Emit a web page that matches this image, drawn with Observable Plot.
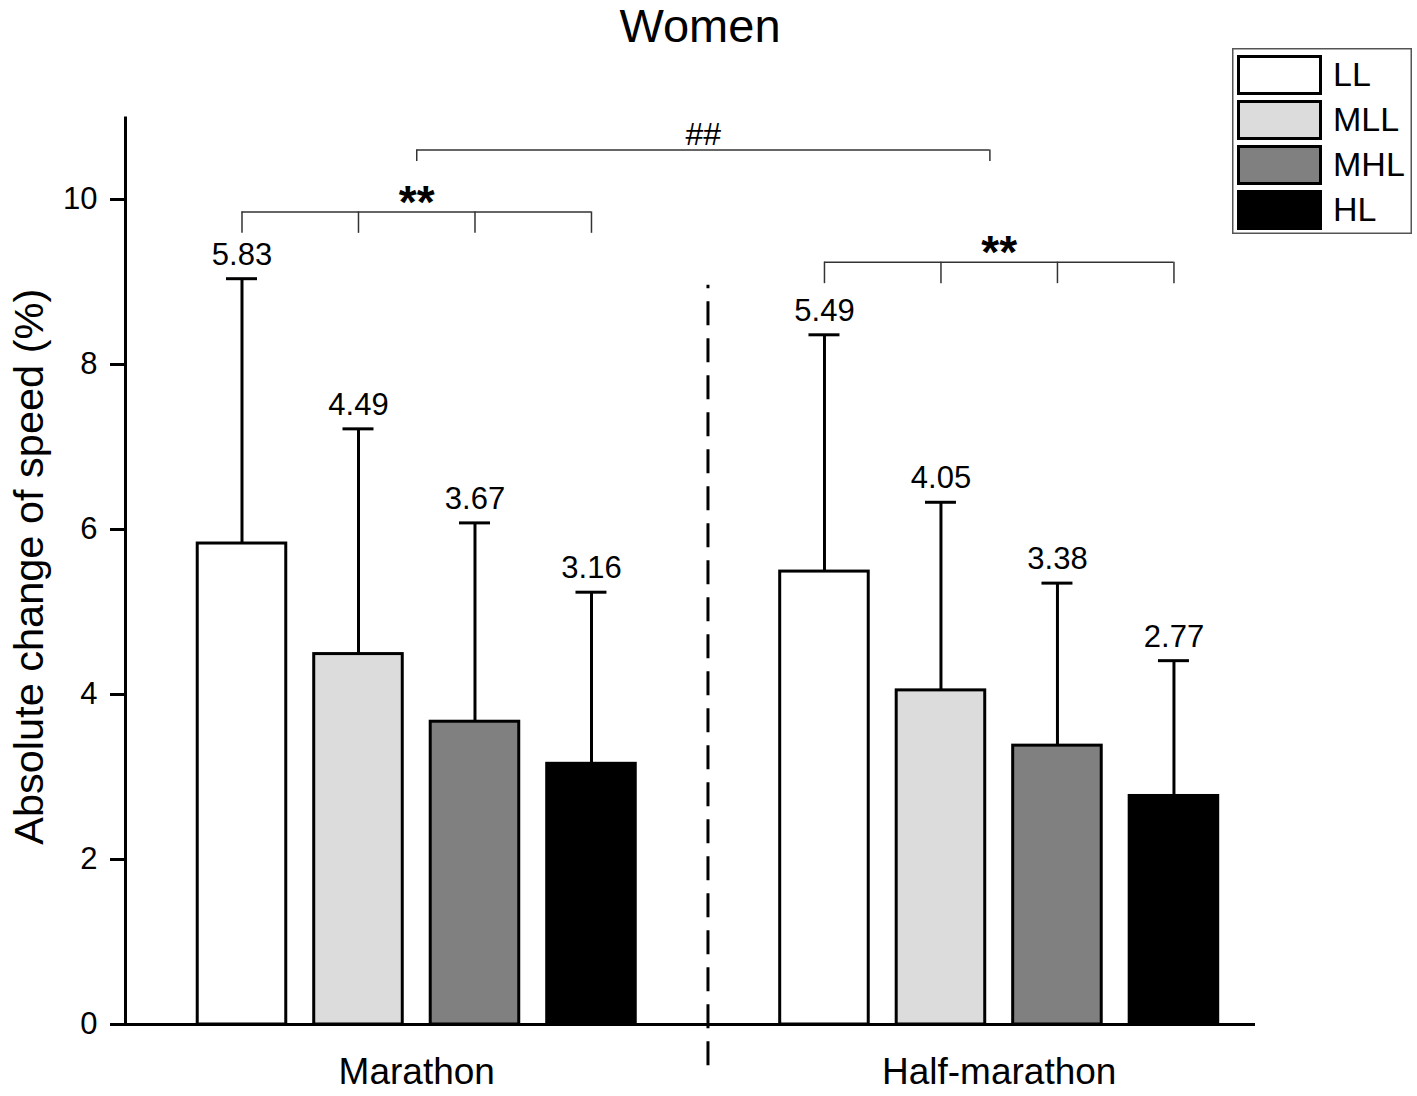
<!DOCTYPE html>
<html>
<head>
<meta charset="utf-8">
<script src="https://cdn.jsdelivr.net/npm/d3@7"></script>
<script src="https://cdn.jsdelivr.net/npm/@observablehq/plot@0.6"></script>
<style>
  html, body { margin: 0; padding: 0; background: #fff; }
  #wrap { position: relative; width: 1417px; height: 1096px; font-family: "Liberation Sans", Arial, sans-serif; }
  #title { height: 58px; width: 1400px; text-align: center; font-size: 47px; line-height: 52px; color: #000; overflow: visible; }
  #legend { position: absolute; left: 1232px; top: 48px; }
</style>
</head>
<body>
<div id="wrap">
  <div id="title">Women</div>
  <div id="chart"></div>
  <div id="legend"></div>
</div>
<script>
// ---- data ----
const races = ["Marathon", "Half-marathon"];
const levels = ["LL", "MLL", "MHL", "HL"];
const marathonMeans = [5.83, 4.49, 3.67, 3.16];
const marathonSD = [3.21, 2.73, 2.41, 2.08];
const halfMeans = [5.49, 4.05, 3.38, 2.77];
const halfSD = [2.87, 2.28, 1.97, 1.64];
const colors = ["#ffffff", "#dcdcdc", "#808080", "#000000"];
const yTicks = [0, 2, 4, 6, 8, 10];
// significance annotations (y in data units)
const withinLabels = ["**", "**"];
const withinLevels = [9.85, 9.24];
const betweenLabel = "##";
const betweenLevel = 10.6;

// ---- build table ----
const meansBy = [marathonMeans, halfMeans];
const sdBy = [marathonSD, halfSD];
const slot = levels.length + 1;
const table = races.flatMap((race, g) => levels.map((level, i) => ({
  race, level, g,
  mean: meansBy[g][i],
  sd: sdBy[g][i],
  top: meansBy[g][i] + sdBy[g][i],
  pos: g * slot + i + 1
})));
const groups = races.map((race, g) => {
  const ps = table.filter(d => d.g === g).map(d => d.pos);
  return {race, g, x1: d3.min(ps), x2: d3.max(ps), center: d3.mean(ps), y: withinLevels[g], label: withinLabels[g]};
});
const divider = [{x: (groups[0].x2 + groups[1].x1) / 2}];
const between = [{x1: groups[0].center, x2: groups[1].center - 0.08, center: (groups[0].center + groups[1].center - 0.08) / 2, y: betweenLevel, label: betweenLabel}];

const xDomain = [0, 9.7];
const yDomain = [0, 11];
const halfW = 0.38, capW = 0.133, drop = 0.26, dropB = 0.14;

const chart = Plot.plot({
  width: 1417,
  height: 1038,
  marginLeft: 125,
  marginRight: 162,
  marginTop: 58.5,
  marginBottom: 72,
  style: {fontFamily: "Liberation Sans, Arial, sans-serif", color: "#000", background: "#fff"},
  x: {domain: xDomain, axis: null},
  y: {domain: yDomain, axis: null},
  color: {domain: levels, range: colors},
  marks: [
    Plot.rect(table, {x1: d => d.pos - halfW, x2: d => d.pos + halfW, y1: 0, y2: "mean", fill: "level", stroke: "#000", strokeWidth: 3}),
    Plot.ruleX(table, {x: "pos", y1: "mean", y2: "top", stroke: "#000", strokeWidth: 3}),
    Plot.ruleY(table, {y: "top", x1: d => d.pos - capW, x2: d => d.pos + capW, stroke: "#000", strokeWidth: 3}),
    Plot.text(table, {x: "pos", y: "top", text: d => d.mean.toFixed(2), lineAnchor: "bottom", dy: -14, fontSize: 31, fill: "#000"}),
    // y axis
    Plot.ruleX([xDomain[0]], {y1: yDomain[0], y2: yDomain[1], stroke: "#000", strokeWidth: 3}),
    Plot.axisY({ticks: yTicks, tickSize: 15, tickPadding: 13, fontSize: 31, strokeWidth: 3, label: null, tickFormat: d => String(d)}),
    // x axis
    Plot.ruleY([0], {x1: xDomain[0], x2: xDomain[1], stroke: "#000", strokeWidth: 3}),
    Plot.text(groups, {x: "center", text: "race", frameAnchor: "bottom", lineAnchor: "bottom", dy: 59, fontSize: 37, fill: "#000"}),
    // y label
    Plot.text(["Absolute change of speed (%)"], {y: (yDomain[0] + yDomain[1]) / 2, text: d => d, frameAnchor: "left", textAnchor: "middle", rotate: -90, lineAnchor: "bottom", dx: -83, dy: -4, fontSize: 41.5, fill: "#000"}),
    // divider
    Plot.ruleX(divider, {x: "x", y1: -0.5, y2: 8.96, stroke: "#000", strokeWidth: 3, strokeDasharray: "24,13"}),
    // within-group brackets
    Plot.ruleY(groups, {y: "y", x1: "x1", x2: "x2", stroke: "#333", strokeWidth: 1.5}),
    Plot.ruleX(table, {x: "pos", y1: d => withinLevels[d.g] - drop, y2: d => withinLevels[d.g], stroke: "#333", strokeWidth: 1.5}),
    Plot.text(groups, {x: "center", y: "y", text: "label", lineAnchor: "bottom", dy: 6, fontSize: 46, fontWeight: "bold", fill: "#000"}),
    // between-group bracket
    Plot.ruleY(between, {y: "y", x1: "x1", x2: "x2", stroke: "#333", strokeWidth: 1.5}),
    Plot.ruleX(between.flatMap(b => [b.x1, b.x2]), {x: d => d, y1: betweenLevel - dropB, y2: betweenLevel, stroke: "#333", strokeWidth: 1.5}),
    Plot.text(between, {x: "center", y: "y", text: "label", lineAnchor: "bottom", dy: -5, fontSize: 32, fill: "#000"})
  ]
});
document.getElementById("chart").appendChild(chart);

// ---- legend ----
const lg = d3.select("#legend").append("svg").attr("width", 180).attr("height", 186)
  .style("font-family", "Liberation Sans, Arial, sans-serif");
lg.append("rect").attr("x", 0.75).attr("y", 0.75).attr("width", 178.5).attr("height", 184.5)
  .attr("fill", "#fff").attr("stroke", "#555").attr("stroke-width", 1.5);
const rows = lg.selectAll("g.row").data(levels).join("g").attr("class", "row")
  .attr("transform", (d, i) => `translate(0,${7 + i * 45})`);
rows.append("rect").attr("x", 6.5).attr("y", 1.5).attr("width", 82).attr("height", 37)
  .attr("fill", (d, i) => colors[i]).attr("stroke", "#000").attr("stroke-width", 3);
rows.append("text").attr("x", 101).attr("y", 31).attr("font-size", 34).attr("fill", "#000").text(d => d);
</script>
</body>
</html>
